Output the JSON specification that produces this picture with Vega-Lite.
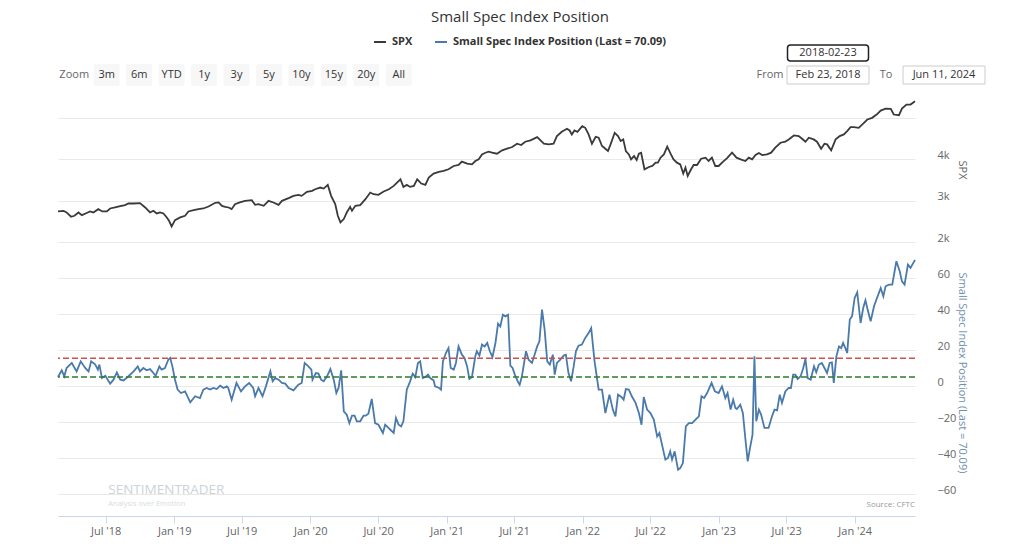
{
  "$schema": "https://vega.github.io/schema/vega-lite/v6.json",
  "padding": {"left": 54, "top": 10, "right": 5, "bottom": 5},
  "background": "white",
  "title": {"text": "Small Spec Index Position", "fontSize": 15, "fontWeight": "normal", "color": "#333333", "font": "Open Sans", "anchor": "middle", "offset": 10},
  "datasets": {
    "zoom": [{"label": "Zoom"}, {"label": "3m"}, {"label": "6m"}, {"label": "YTD"}, {"label": "1y"}, {"label": "3y"}, {"label": "5y"}, {"label": "10y"}, {"label": "15y"}, {"label": "20y"}, {"label": "All"}],
    "range": [{"label": "From"}, {"label": "Feb 23, 2018"}, {"label": "To"}, {"label": "Jun 11, 2024"}],
    "picker": [{"label": "2018-02-23"}],
    "spx": [
      {"date": "2018-02-23", "value": 2737}, {"date": "2018-03-10", "value": 2753}, {"date": "2018-03-18", "value": 2713}, {"date": "2018-03-30", "value": 2609},
      {"date": "2018-04-08", "value": 2633}, {"date": "2018-04-19", "value": 2713}, {"date": "2018-04-28", "value": 2649}, {"date": "2018-05-08", "value": 2689},
      {"date": "2018-05-20", "value": 2737}, {"date": "2018-05-29", "value": 2713}, {"date": "2018-06-11", "value": 2793}, {"date": "2018-06-22", "value": 2737},
      {"date": "2018-07-04", "value": 2737}, {"date": "2018-07-13", "value": 2809}, {"date": "2018-07-26", "value": 2833}, {"date": "2018-08-09", "value": 2865},
      {"date": "2018-08-22", "value": 2889}, {"date": "2018-08-31", "value": 2929}, {"date": "2018-09-14", "value": 2929}, {"date": "2018-10-01", "value": 2938},
      {"date": "2018-10-15", "value": 2833}, {"date": "2018-10-28", "value": 2713}, {"date": "2018-11-06", "value": 2753}, {"date": "2018-11-15", "value": 2689},
      {"date": "2018-11-24", "value": 2713}, {"date": "2018-12-03", "value": 2689}, {"date": "2018-12-12", "value": 2593}, {"date": "2018-12-18", "value": 2513},
      {"date": "2018-12-25", "value": 2377}, {"date": "2019-01-03", "value": 2529}, {"date": "2019-01-17", "value": 2593}, {"date": "2019-01-30", "value": 2633},
      {"date": "2019-02-08", "value": 2737}, {"date": "2019-02-22", "value": 2769}, {"date": "2019-03-07", "value": 2793}, {"date": "2019-03-20", "value": 2809},
      {"date": "2019-04-03", "value": 2857}, {"date": "2019-04-21", "value": 2946}, {"date": "2019-04-30", "value": 2954}, {"date": "2019-05-09", "value": 2873},
      {"date": "2019-05-18", "value": 2849}, {"date": "2019-05-27", "value": 2833}, {"date": "2019-06-04", "value": 2793}, {"date": "2019-06-13", "value": 2913},
      {"date": "2019-06-26", "value": 2954}, {"date": "2019-07-10", "value": 2994}, {"date": "2019-07-28", "value": 3010}, {"date": "2019-08-06", "value": 2897},
      {"date": "2019-08-15", "value": 2913}, {"date": "2019-08-29", "value": 2873}, {"date": "2019-09-11", "value": 2994}, {"date": "2019-09-24", "value": 2954},
      {"date": "2019-10-08", "value": 2897}, {"date": "2019-10-17", "value": 2994}, {"date": "2019-11-04", "value": 3058}, {"date": "2019-11-17", "value": 3114},
      {"date": "2019-11-30", "value": 3138}, {"date": "2019-12-09", "value": 3114}, {"date": "2019-12-23", "value": 3210}, {"date": "2020-01-06", "value": 3234},
      {"date": "2020-01-14", "value": 3274}, {"date": "2020-01-28", "value": 3314}, {"date": "2020-02-06", "value": 3290}, {"date": "2020-02-17", "value": 3378},
      {"date": "2020-02-26", "value": 3114}, {"date": "2020-03-08", "value": 2913}, {"date": "2020-03-15", "value": 2633}, {"date": "2020-03-22", "value": 2473},
      {"date": "2020-03-31", "value": 2553}, {"date": "2020-04-08", "value": 2713}, {"date": "2020-04-17", "value": 2849}, {"date": "2020-04-22", "value": 2753},
      {"date": "2020-05-01", "value": 2873}, {"date": "2020-05-14", "value": 2889}, {"date": "2020-05-28", "value": 3034}, {"date": "2020-06-10", "value": 3194},
      {"date": "2020-06-19", "value": 3154}, {"date": "2020-07-02", "value": 3138}, {"date": "2020-07-16", "value": 3218}, {"date": "2020-07-30", "value": 3274},
      {"date": "2020-08-12", "value": 3354}, {"date": "2020-08-30", "value": 3514}, {"date": "2020-09-07", "value": 3330}, {"date": "2020-09-16", "value": 3378},
      {"date": "2020-09-25", "value": 3330}, {"date": "2020-10-05", "value": 3354}, {"date": "2020-10-14", "value": 3514}, {"date": "2020-10-25", "value": 3410},
      {"date": "2020-11-05", "value": 3378}, {"date": "2020-11-14", "value": 3555}, {"date": "2020-11-27", "value": 3651}, {"date": "2020-12-11", "value": 3691},
      {"date": "2020-12-24", "value": 3715}, {"date": "2021-01-06", "value": 3755}, {"date": "2021-01-20", "value": 3835}, {"date": "2021-02-02", "value": 3859},
      {"date": "2021-02-11", "value": 3939}, {"date": "2021-02-25", "value": 3891}, {"date": "2021-03-10", "value": 3875}, {"date": "2021-03-19", "value": 3955},
      {"date": "2021-03-28", "value": 3995}, {"date": "2021-04-06", "value": 4115}, {"date": "2021-04-15", "value": 4155}, {"date": "2021-04-24", "value": 4180},
      {"date": "2021-05-03", "value": 4155}, {"date": "2021-05-16", "value": 4131}, {"date": "2021-05-30", "value": 4212}, {"date": "2021-06-12", "value": 4252},
      {"date": "2021-06-26", "value": 4292}, {"date": "2021-07-09", "value": 4372}, {"date": "2021-07-20", "value": 4340}, {"date": "2021-07-31", "value": 4420},
      {"date": "2021-08-14", "value": 4452}, {"date": "2021-09-01", "value": 4532}, {"date": "2021-09-19", "value": 4372}, {"date": "2021-10-02", "value": 4356},
      {"date": "2021-10-15", "value": 4372}, {"date": "2021-10-24", "value": 4556}, {"date": "2021-11-06", "value": 4660}, {"date": "2021-11-20", "value": 4732},
      {"date": "2021-11-27", "value": 4692}, {"date": "2021-12-03", "value": 4596}, {"date": "2021-12-10", "value": 4692}, {"date": "2021-12-18", "value": 4660},
      {"date": "2021-12-31", "value": 4797}, {"date": "2022-01-08", "value": 4757}, {"date": "2022-01-17", "value": 4596}, {"date": "2022-01-26", "value": 4372},
      {"date": "2022-02-05", "value": 4540}, {"date": "2022-02-13", "value": 4516}, {"date": "2022-02-22", "value": 4316}, {"date": "2022-02-28", "value": 4276},
      {"date": "2022-03-10", "value": 4196}, {"date": "2022-03-17", "value": 4356}, {"date": "2022-03-28", "value": 4636}, {"date": "2022-04-06", "value": 4556},
      {"date": "2022-04-13", "value": 4436}, {"date": "2022-04-20", "value": 4476}, {"date": "2022-04-27", "value": 4196}, {"date": "2022-05-05", "value": 4115},
      {"date": "2022-05-11", "value": 3995}, {"date": "2022-05-19", "value": 4075}, {"date": "2022-05-26", "value": 3979}, {"date": "2022-06-01", "value": 4131},
      {"date": "2022-06-07", "value": 4155}, {"date": "2022-06-16", "value": 3755}, {"date": "2022-06-28", "value": 3811}, {"date": "2022-07-07", "value": 3835},
      {"date": "2022-07-16", "value": 3915}, {"date": "2022-07-22", "value": 3915}, {"date": "2022-07-29", "value": 4035}, {"date": "2022-08-07", "value": 4115},
      {"date": "2022-08-16", "value": 4300}, {"date": "2022-08-25", "value": 4131}, {"date": "2022-09-02", "value": 3995}, {"date": "2022-09-11", "value": 3915},
      {"date": "2022-09-20", "value": 3875}, {"date": "2022-09-28", "value": 3651}, {"date": "2022-10-04", "value": 3795}, {"date": "2022-10-10", "value": 3594},
      {"date": "2022-10-19", "value": 3755}, {"date": "2022-10-26", "value": 3859}, {"date": "2022-11-04", "value": 3859}, {"date": "2022-11-15", "value": 4011},
      {"date": "2022-11-27", "value": 4035}, {"date": "2022-12-05", "value": 3955}, {"date": "2022-12-14", "value": 4035}, {"date": "2022-12-23", "value": 3835},
      {"date": "2023-01-01", "value": 3835}, {"date": "2023-01-13", "value": 3939}, {"date": "2023-01-23", "value": 4019}, {"date": "2023-02-06", "value": 4156},
      {"date": "2023-02-18", "value": 4035}, {"date": "2023-03-01", "value": 3995}, {"date": "2023-03-14", "value": 3955}, {"date": "2023-03-23", "value": 4035},
      {"date": "2023-04-01", "value": 3995}, {"date": "2023-04-10", "value": 4099}, {"date": "2023-04-19", "value": 4147}, {"date": "2023-04-28", "value": 4099},
      {"date": "2023-05-11", "value": 4115}, {"date": "2023-05-22", "value": 4156}, {"date": "2023-06-02", "value": 4276}, {"date": "2023-06-16", "value": 4396},
      {"date": "2023-06-29", "value": 4420}, {"date": "2023-07-08", "value": 4476}, {"date": "2023-07-22", "value": 4572}, {"date": "2023-08-04", "value": 4556},
      {"date": "2023-08-13", "value": 4492}, {"date": "2023-08-22", "value": 4420}, {"date": "2023-08-31", "value": 4516}, {"date": "2023-09-13", "value": 4476},
      {"date": "2023-09-22", "value": 4420}, {"date": "2023-10-03", "value": 4252}, {"date": "2023-10-12", "value": 4372}, {"date": "2023-10-19", "value": 4356},
      {"date": "2023-10-30", "value": 4212}, {"date": "2023-11-11", "value": 4476}, {"date": "2023-11-22", "value": 4556}, {"date": "2023-12-03", "value": 4596},
      {"date": "2023-12-12", "value": 4676}, {"date": "2023-12-21", "value": 4772}, {"date": "2023-12-30", "value": 4772}, {"date": "2024-01-12", "value": 4756},
      {"date": "2024-01-26", "value": 4877}, {"date": "2024-02-04", "value": 4957}, {"date": "2024-02-17", "value": 4997}, {"date": "2024-02-29", "value": 5077},
      {"date": "2024-03-11", "value": 5173}, {"date": "2024-03-24", "value": 5221}, {"date": "2024-04-07", "value": 5213}, {"date": "2024-04-15", "value": 5077},
      {"date": "2024-04-29", "value": 5061}, {"date": "2024-05-07", "value": 5221}, {"date": "2024-05-19", "value": 5317}, {"date": "2024-05-30", "value": 5317},
      {"date": "2024-06-11", "value": 5397}
    ],
    "ssi": [
      {"date": "2018-02-23", "value": 5.0}, {"date": "2018-03-05", "value": 8.7}, {"date": "2018-03-12", "value": 5.4}, {"date": "2018-03-18", "value": 10.0},
      {"date": "2018-04-01", "value": 12.8}, {"date": "2018-04-14", "value": 8.1}, {"date": "2018-04-25", "value": 13.7}, {"date": "2018-05-07", "value": 10.0},
      {"date": "2018-05-16", "value": 8.1}, {"date": "2018-05-23", "value": 13.7}, {"date": "2018-06-03", "value": 11.9}, {"date": "2018-06-10", "value": 9.1},
      {"date": "2018-06-14", "value": 11.9}, {"date": "2018-06-21", "value": 4.4}, {"date": "2018-06-30", "value": 5.7}, {"date": "2018-07-13", "value": 1.3},
      {"date": "2018-07-22", "value": 3.5}, {"date": "2018-07-31", "value": 7.6}, {"date": "2018-08-09", "value": 3.5}, {"date": "2018-08-18", "value": 3.1},
      {"date": "2018-08-31", "value": 5.4}, {"date": "2018-09-14", "value": 8.1}, {"date": "2018-09-25", "value": 10.9}, {"date": "2018-10-01", "value": 8.1},
      {"date": "2018-10-10", "value": 10.0}, {"date": "2018-10-19", "value": 8.7}, {"date": "2018-10-28", "value": 9.4}, {"date": "2018-11-06", "value": 7.2},
      {"date": "2018-11-12", "value": 5.7}, {"date": "2018-11-22", "value": 10.9}, {"date": "2018-11-28", "value": 9.1}, {"date": "2018-12-07", "value": 10.0},
      {"date": "2018-12-16", "value": 14.6}, {"date": "2018-12-21", "value": 15.6}, {"date": "2018-12-27", "value": 10.9}, {"date": "2019-01-03", "value": 3.5},
      {"date": "2019-01-10", "value": -2.0}, {"date": "2019-01-19", "value": -3.9}, {"date": "2019-01-30", "value": -3.0}, {"date": "2019-02-13", "value": -9.1},
      {"date": "2019-02-26", "value": -5.7}, {"date": "2019-03-11", "value": -6.7}, {"date": "2019-03-20", "value": -2.0}, {"date": "2019-03-29", "value": -1.1},
      {"date": "2019-04-07", "value": -2.0}, {"date": "2019-04-16", "value": -1.1}, {"date": "2019-04-25", "value": -1.7}, {"date": "2019-05-04", "value": 0.2},
      {"date": "2019-05-13", "value": -1.1}, {"date": "2019-05-22", "value": -0.2}, {"date": "2019-05-26", "value": -1.1}, {"date": "2019-06-04", "value": -7.6},
      {"date": "2019-06-17", "value": 1.7}, {"date": "2019-06-29", "value": -3.0}, {"date": "2019-07-10", "value": -0.2}, {"date": "2019-07-21", "value": 1.7},
      {"date": "2019-08-01", "value": -1.1}, {"date": "2019-08-06", "value": -5.7}, {"date": "2019-08-15", "value": -1.1}, {"date": "2019-08-26", "value": -5.7},
      {"date": "2019-09-04", "value": -0.2}, {"date": "2019-09-16", "value": 8.1}, {"date": "2019-09-22", "value": 2.6}, {"date": "2019-09-29", "value": 4.4},
      {"date": "2019-10-08", "value": 3.5}, {"date": "2019-10-17", "value": 1.7}, {"date": "2019-10-26", "value": 1.3}, {"date": "2019-11-04", "value": -1.1},
      {"date": "2019-11-17", "value": -2.4}, {"date": "2019-11-30", "value": 0.7}, {"date": "2019-12-09", "value": 1.7}, {"date": "2019-12-17", "value": 12.8},
      {"date": "2019-12-27", "value": 10.9}, {"date": "2020-01-04", "value": 9.1}, {"date": "2020-01-07", "value": 3.5}, {"date": "2020-01-16", "value": 7.2},
      {"date": "2020-01-23", "value": 6.9}, {"date": "2020-01-30", "value": 3.5}, {"date": "2020-02-06", "value": 2.6}, {"date": "2020-02-15", "value": 5.4},
      {"date": "2020-02-24", "value": 9.4}, {"date": "2020-03-04", "value": 3.5}, {"date": "2020-03-11", "value": -3.9}, {"date": "2020-03-17", "value": -1.1},
      {"date": "2020-03-24", "value": 8.7}, {"date": "2020-03-31", "value": -14.1}, {"date": "2020-04-08", "value": -15.9}, {"date": "2020-04-15", "value": -20.6},
      {"date": "2020-04-22", "value": -16.5}, {"date": "2020-04-29", "value": -16.5}, {"date": "2020-05-05", "value": -19.6}, {"date": "2020-05-14", "value": -19.6},
      {"date": "2020-05-23", "value": -16.5}, {"date": "2020-05-29", "value": -16.5}, {"date": "2020-06-05", "value": -15.4}, {"date": "2020-06-14", "value": -7.2},
      {"date": "2020-06-23", "value": -20.6}, {"date": "2020-07-02", "value": -21.5}, {"date": "2020-07-14", "value": -26.1}, {"date": "2020-07-20", "value": -21.5},
      {"date": "2020-07-29", "value": -23.3}, {"date": "2020-08-03", "value": -24.3}, {"date": "2020-08-12", "value": -26.1}, {"date": "2020-08-18", "value": -17.8},
      {"date": "2020-08-25", "value": -21.5}, {"date": "2020-09-01", "value": -22.4}, {"date": "2020-09-07", "value": -19.6}, {"date": "2020-09-16", "value": -2.0},
      {"date": "2020-09-25", "value": 2.6}, {"date": "2020-10-02", "value": 6.9}, {"date": "2020-10-09", "value": 5.0}, {"date": "2020-10-16", "value": 12.8},
      {"date": "2020-10-22", "value": 13.7}, {"date": "2020-10-29", "value": 4.4}, {"date": "2020-11-05", "value": 5.0}, {"date": "2020-11-12", "value": 6.3},
      {"date": "2020-11-18", "value": 4.4}, {"date": "2020-11-27", "value": 3.1}, {"date": "2020-12-01", "value": -0.2}, {"date": "2020-12-12", "value": -1.1},
      {"date": "2020-12-17", "value": -2.0}, {"date": "2020-12-22", "value": 13.7}, {"date": "2020-12-30", "value": 18.3}, {"date": "2021-01-06", "value": 21.1},
      {"date": "2021-01-12", "value": 10.0}, {"date": "2021-01-20", "value": 9.1}, {"date": "2021-01-26", "value": 12.8}, {"date": "2021-02-02", "value": 22.0},
      {"date": "2021-02-11", "value": 17.4}, {"date": "2021-02-18", "value": 15.6}, {"date": "2021-02-25", "value": 10.9}, {"date": "2021-03-03", "value": 3.9},
      {"date": "2021-03-10", "value": 5.0}, {"date": "2021-03-19", "value": 16.5}, {"date": "2021-03-23", "value": 19.3}, {"date": "2021-03-30", "value": 16.9},
      {"date": "2021-04-06", "value": 23.0}, {"date": "2021-04-13", "value": 22.0}, {"date": "2021-04-20", "value": 23.9}, {"date": "2021-04-27", "value": 19.3},
      {"date": "2021-05-04", "value": 16.1}, {"date": "2021-05-12", "value": 23.9}, {"date": "2021-05-19", "value": 34.6}, {"date": "2021-05-25", "value": 33.1},
      {"date": "2021-06-01", "value": 39.6}, {"date": "2021-06-08", "value": 38.7}, {"date": "2021-06-15", "value": 39.6}, {"date": "2021-06-21", "value": 11.3},
      {"date": "2021-06-27", "value": 10.0}, {"date": "2021-07-03", "value": 6.3}, {"date": "2021-07-12", "value": 2.0}, {"date": "2021-07-16", "value": 0.7},
      {"date": "2021-07-22", "value": 5.4}, {"date": "2021-08-02", "value": 19.3}, {"date": "2021-08-09", "value": 14.6}, {"date": "2021-08-18", "value": 12.8},
      {"date": "2021-08-25", "value": 17.4}, {"date": "2021-09-01", "value": 22.0}, {"date": "2021-09-07", "value": 24.8}, {"date": "2021-09-14", "value": 42.4},
      {"date": "2021-09-21", "value": 31.3}, {"date": "2021-09-28", "value": 13.7}, {"date": "2021-10-05", "value": 11.9}, {"date": "2021-10-13", "value": 17.4},
      {"date": "2021-10-18", "value": 6.3}, {"date": "2021-10-24", "value": 12.8}, {"date": "2021-11-02", "value": 14.6}, {"date": "2021-11-11", "value": 16.9},
      {"date": "2021-11-17", "value": 17.4}, {"date": "2021-11-24", "value": 7.2}, {"date": "2021-12-01", "value": 2.6}, {"date": "2021-12-08", "value": 10.9},
      {"date": "2021-12-14", "value": 19.3}, {"date": "2021-12-21", "value": 22.4}, {"date": "2021-12-30", "value": 23.0}, {"date": "2022-01-08", "value": 26.7},
      {"date": "2022-01-17", "value": 29.4}, {"date": "2022-01-24", "value": 32.2}, {"date": "2022-02-02", "value": 13.7}, {"date": "2022-02-13", "value": -2.0},
      {"date": "2022-02-22", "value": -2.0}, {"date": "2022-03-03", "value": -15.0}, {"date": "2022-03-14", "value": -4.8}, {"date": "2022-03-23", "value": -13.1},
      {"date": "2022-03-30", "value": -16.9}, {"date": "2022-04-06", "value": -4.8}, {"date": "2022-04-15", "value": -6.1}, {"date": "2022-04-21", "value": -7.6},
      {"date": "2022-04-27", "value": -1.7}, {"date": "2022-05-05", "value": -2.0}, {"date": "2022-05-13", "value": -5.7}, {"date": "2022-05-23", "value": -9.4},
      {"date": "2022-06-01", "value": -15.0}, {"date": "2022-06-08", "value": -21.5}, {"date": "2022-06-14", "value": -6.1}, {"date": "2022-06-23", "value": -13.1},
      {"date": "2022-07-02", "value": -15.0}, {"date": "2022-07-11", "value": -18.7}, {"date": "2022-07-20", "value": -28.0}, {"date": "2022-07-26", "value": -26.1},
      {"date": "2022-08-04", "value": -34.4}, {"date": "2022-08-11", "value": -40.9}, {"date": "2022-08-18", "value": -40.0}, {"date": "2022-08-24", "value": -36.3},
      {"date": "2022-08-29", "value": -40.9}, {"date": "2022-09-05", "value": -36.3}, {"date": "2022-09-14", "value": -46.5}, {"date": "2022-09-20", "value": -45.6},
      {"date": "2022-09-27", "value": -42.8}, {"date": "2022-10-05", "value": -22.4}, {"date": "2022-10-13", "value": -20.6}, {"date": "2022-10-22", "value": -20.6},
      {"date": "2022-10-31", "value": -18.7}, {"date": "2022-11-09", "value": -16.9}, {"date": "2022-11-16", "value": -5.7}, {"date": "2022-11-23", "value": -6.7},
      {"date": "2022-12-01", "value": -3.9}, {"date": "2022-12-13", "value": 1.7}, {"date": "2022-12-22", "value": -3.0}, {"date": "2023-01-01", "value": -3.9},
      {"date": "2023-01-10", "value": -0.2}, {"date": "2023-01-19", "value": -6.7}, {"date": "2023-01-25", "value": -3.9}, {"date": "2023-02-02", "value": -13.1},
      {"date": "2023-02-09", "value": -7.6}, {"date": "2023-02-15", "value": -12.2}, {"date": "2023-02-19", "value": -12.8}, {"date": "2023-02-28", "value": -10.4},
      {"date": "2023-03-07", "value": -15.0}, {"date": "2023-03-14", "value": -29.8}, {"date": "2023-03-20", "value": -41.9}, {"date": "2023-03-27", "value": -33.5},
      {"date": "2023-04-02", "value": -27.0}, {"date": "2023-04-07", "value": 16.5}, {"date": "2023-04-12", "value": -19.6}, {"date": "2023-04-19", "value": -13.1},
      {"date": "2023-04-25", "value": -15.9}, {"date": "2023-05-04", "value": -23.3}, {"date": "2023-05-15", "value": -23.3}, {"date": "2023-05-24", "value": -16.9},
      {"date": "2023-05-31", "value": -13.1}, {"date": "2023-06-07", "value": -13.5}, {"date": "2023-06-14", "value": -4.8}, {"date": "2023-06-20", "value": -9.4},
      {"date": "2023-06-29", "value": -3.0}, {"date": "2023-07-08", "value": -1.1}, {"date": "2023-07-14", "value": -1.1}, {"date": "2023-07-20", "value": 6.3},
      {"date": "2023-07-26", "value": 6.3}, {"date": "2023-08-01", "value": 3.9}, {"date": "2023-08-09", "value": 5.4}, {"date": "2023-08-15", "value": 9.1},
      {"date": "2023-08-22", "value": 15.0}, {"date": "2023-08-28", "value": 4.4}, {"date": "2023-09-05", "value": 3.5}, {"date": "2023-09-14", "value": 10.9},
      {"date": "2023-09-20", "value": 7.6}, {"date": "2023-09-27", "value": 11.9}, {"date": "2023-10-05", "value": 12.8}, {"date": "2023-10-12", "value": 10.0},
      {"date": "2023-10-19", "value": 7.2}, {"date": "2023-10-26", "value": 12.8}, {"date": "2023-11-01", "value": 13.1}, {"date": "2023-11-06", "value": 1.7},
      {"date": "2023-11-13", "value": 16.5}, {"date": "2023-11-20", "value": 22.0}, {"date": "2023-11-26", "value": 21.1}, {"date": "2023-12-01", "value": 23.9},
      {"date": "2023-12-07", "value": 21.1}, {"date": "2023-12-12", "value": 18.3}, {"date": "2023-12-19", "value": 36.9}, {"date": "2023-12-25", "value": 38.7},
      {"date": "2024-01-01", "value": 48.9}, {"date": "2024-01-08", "value": 52.0}, {"date": "2024-01-17", "value": 35.0}, {"date": "2024-01-24", "value": 43.3},
      {"date": "2024-01-30", "value": 47.6}, {"date": "2024-02-06", "value": 41.5}, {"date": "2024-02-13", "value": 35.9}, {"date": "2024-02-22", "value": 44.3},
      {"date": "2024-03-01", "value": 48.9}, {"date": "2024-03-11", "value": 54.4}, {"date": "2024-03-18", "value": 49.8}, {"date": "2024-03-24", "value": 55.4},
      {"date": "2024-04-02", "value": 56.3}, {"date": "2024-04-11", "value": 56.3}, {"date": "2024-04-22", "value": 69.3}, {"date": "2024-05-01", "value": 63.7},
      {"date": "2024-05-07", "value": 58.1}, {"date": "2024-05-14", "value": 56.3}, {"date": "2024-05-23", "value": 67.4}, {"date": "2024-05-30", "value": 65.6},
      {"date": "2024-06-11", "value": 70.09}
    ]
  },
  "vconcat": [
    {
      "hconcat": [
        {
          "width": 357, "height": 44,
          "data": {"name": "zoom"},
          "encoding": {
            "x": {"field": "label", "type": "nominal", "axis": null,
                  "scale": {"domain": ["Zoom", "3m", "6m", "YTD", "1y", "3y", "5y", "10y", "15y", "20y", "All"], "paddingInner": 0.2, "paddingOuter": 0.1}},
            "y": {"datum": "inputs", "type": "nominal", "axis": null,
                  "scale": {"domain": ["picker", "inputs"], "paddingInner": 0, "paddingOuter": 0}}
          },
          "layer": [
            {"transform": [{"filter": "datum.label !== 'Zoom'"}], "mark": {"type": "rect", "fill": "#f7f7f7", "cornerRadius": 2}},
            {"mark": {"type": "text", "fontSize": 11, "font": "Open Sans", "baseline": "middle"},
             "encoding": {"text": {"field": "label", "type": "nominal"},
                          "color": {"condition": {"test": "datum.label === 'Zoom'", "value": "#666666"}, "value": "#333333"}}}
          ]
        },
        {
          "width": 232, "height": 44,
          "layer": [
            {"data": {"name": "range"},
             "transform": [{"filter": "datum.label !== 'From' && datum.label !== 'To'"}],
             "mark": {"type": "rect", "width": 82, "height": 18, "fill": "white", "stroke": "#cccccc", "strokeWidth": 1},
             "encoding": {
               "x": {"field": "label", "type": "nominal", "axis": null,
                     "scale": {"domain": ["From", "Feb 23, 2018", "To", "Jun 11, 2024"], "paddingInner": 0, "paddingOuter": 0}},
               "y": {"datum": "inputs", "type": "nominal", "axis": null,
                     "scale": {"domain": ["picker", "inputs"], "paddingInner": 0, "paddingOuter": 0}}
             }},
            {"data": {"name": "range"},
             "mark": {"type": "text", "fontSize": 11, "font": "Open Sans", "baseline": "middle"},
             "encoding": {
               "x": {"field": "label", "type": "nominal"},
               "y": {"datum": "inputs", "type": "nominal"},
               "text": {"field": "label", "type": "nominal"},
               "color": {"condition": {"test": "datum.label === 'From' || datum.label === 'To'", "value": "#666666"}, "value": "#333333"}
             }},
            {"data": {"name": "picker"},
             "mark": {"type": "rect", "width": 81, "height": 16, "fill": "white", "stroke": "#222222", "strokeWidth": 1.5, "cornerRadius": 3},
             "encoding": {
               "x": {"datum": "Feb 23, 2018", "type": "nominal"},
               "y": {"datum": "picker", "type": "nominal"}
             }},
            {"data": {"name": "picker"},
             "mark": {"type": "text", "fontSize": 11, "font": "Open Sans", "baseline": "middle", "color": "#333333"},
             "encoding": {
               "x": {"datum": "Feb 23, 2018", "type": "nominal"},
               "y": {"datum": "picker", "type": "nominal"},
               "text": {"field": "label", "type": "nominal"}
             }}
          ]
        }
      ],
      "spacing": 326
    },
    {
      "vconcat": [
        {
          "width": 857, "height": 145,
          "data": {"name": "spx"},
          "mark": {"type": "line", "strokeWidth": 1.8},
          "encoding": {
            "x": {"field": "date", "type": "temporal", "axis": null, "scale": {"nice": false}},
            "y": {"field": "value", "type": "quantitative", "scale": {"domain": [2000, 5500], "nice": false},
                  "axis": {"orient": "right", "values": [2000, 3000, 4000, 5000], "labelExpr": "datum.value < 5000 ? (datum.value / 1000) + 'k' : ''", "title": "SPX", "titleColor": "#666666", "titleX": 46, "titleBaseline": "middle", "titleAngle": 90}},
            "color": {"datum": "SPX", "type": "nominal",
                      "scale": {"domain": ["SPX", "Small Spec Index Position (Last = 70.09)"], "range": ["#3a3a3a", "#4a7aab"]},
                      "legend": {"title": null}}
          }
        },
        {
          "width": 857, "height": 243,
          "layer": [
            {
              "data": {"name": "ssi"},
              "mark": {"type": "line", "strokeWidth": 1.8},
              "encoding": {
                "x": {"field": "date", "type": "temporal", "scale": {"nice": false},
                      "axis": {"format": "%b '%y", "tickCount": {"interval": "month", "step": 6}, "offset": 22, "domain": true, "domainColor": "#ccd6eb", "ticks": true, "tickColor": "#ccd6eb", "tickSize": 7, "labelPadding": 2, "grid": false, "title": null, "labelFlush": false}},
                "y": {"field": "value", "type": "quantitative", "scale": {"domain": [-60, 75], "nice": false},
                      "axis": {"orient": "right", "values": [-60, -40, -20, 0, 20, 40, 60], "title": "Small Spec Index Position (Last = 70.09)", "titleColor": "#6f8fb0", "titleX": 46, "titleBaseline": "middle", "titleAngle": 90}},
                "color": {"datum": "Small Spec Index Position (Last = 70.09)", "type": "nominal"}
              }
            },
            {
              "data": {"values": [{}]},
              "mark": {"type": "rule", "color": "#d0504c", "strokeWidth": 1.5, "strokeDash": [6, 3]},
              "encoding": {"y": {"datum": 15.4, "type": "quantitative"}}
            },
            {
              "data": {"values": [{}]},
              "mark": {"type": "rule", "color": "#2f7a2f", "strokeWidth": 1.5, "strokeDash": [6, 3]},
              "encoding": {"y": {"datum": 5.0, "type": "quantitative"}}
            },
            {
              "data": {"values": [{}]},
              "mark": {"type": "text", "text": "Source: CFTC", "align": "right", "baseline": "middle", "fontSize": 8, "font": "Open Sans", "color": "#999999"},
              "encoding": {"x": {"datum": {"year": 2024, "month": 6, "date": 11}, "type": "temporal"}, "y": {"datum": -66, "type": "quantitative"}}
            },
            {
              "data": {"values": [{}]},
              "mark": {"type": "text", "text": "SENTIMENTRADER", "align": "left", "baseline": "middle", "fontSize": 13.5, "font": "Open Sans", "color": "#ccd3da"},
              "encoding": {"x": {"datum": {"year": 2018, "month": 7, "date": 8}, "type": "temporal"}, "y": {"datum": -57.5, "type": "quantitative"}}
            },
            {
              "data": {"values": [{}]},
              "mark": {"type": "text", "text": "Analysis over Emotion", "align": "left", "baseline": "middle", "fontSize": 7.5, "font": "Open Sans", "color": "#d6dce2", "letterSpacing": 1},
              "encoding": {"x": {"datum": {"year": 2018, "month": 7, "date": 8}, "type": "temporal"}, "y": {"datum": -65.8, "type": "quantitative"}}
            }
          ]
        }
      ],
      "spacing": 8,
      "resolve": {"scale": {"x": "shared", "color": "shared"}}
    }
  ],
  "spacing": 11,
  "resolve": {"scale": {"color": "shared"}, "legend": {"color": "shared"}},
  "config": {
    "view": {"stroke": null},
    "font": "Open Sans",
    "axis": {"labelFont": "Open Sans", "labelFontSize": 11, "labelColor": "#666666", "titleFont": "Open Sans", "titleFontSize": 11, "titleFontWeight": "normal", "gridColor": "#e9e9e9", "gridWidth": 1},
    "axisY": {"domain": false, "ticks": false, "labelPadding": 22, "labelAlign": "left", "labelOffset": -4, "grid": true},
    "legend": {"orient": "top", "direction": "horizontal", "symbolType": "stroke", "symbolSize": 144, "symbolStrokeWidth": 2, "labelFont": "Open Sans", "labelFontSize": 11, "labelFontWeight": "bold", "labelColor": "#333333", "labelLimit": 400, "columnPadding": 18, "labelOffset": 5, "offset": -4.5, "layout": {"top": {"anchor": "middle"}}}
  }
}
